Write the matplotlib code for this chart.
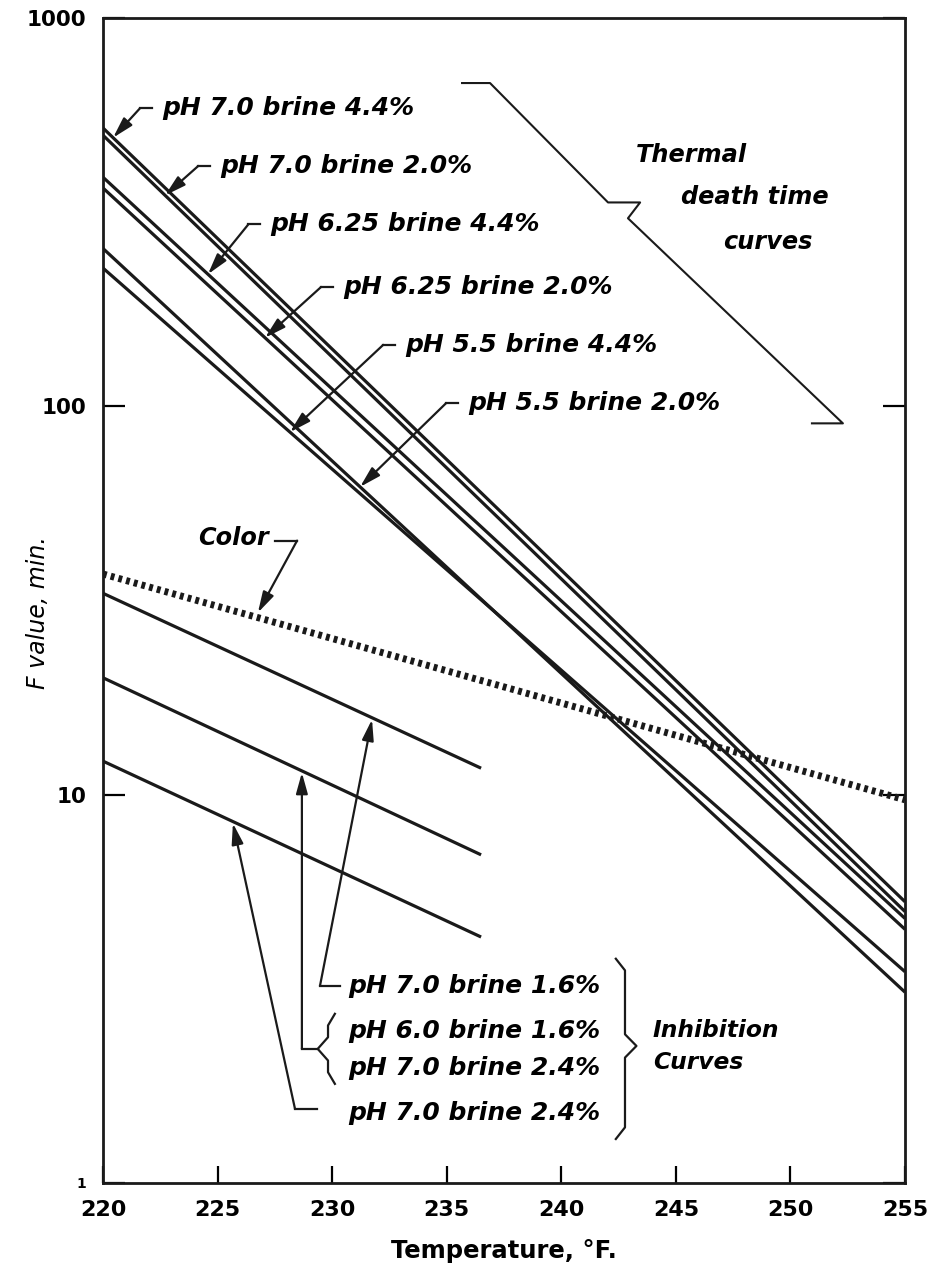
"""Thermal death time vs inhibition curves for brined product (F value against temperature)."""
import numpy as np
import matplotlib
matplotlib.use("Agg")
import matplotlib.pyplot as plt
from matplotlib.ticker import FixedLocator, FixedFormatter, NullLocator

# --- data: straight lines on semi-log paper, F value (min) at the two end temperatures
tdt_labels = ["pH 7.0 brine 4.4%", "pH 7.0 brine 2.0%", "pH 6.25 brine 4.4%",
              "pH 6.25 brine 2.0%", "pH 5.5 brine 4.4%", "pH 5.5 brine 2.0%"]
tdt_temp = [220, 255]
tdt_f = [[521, 5.3], [499, 5.0], [389, 4.8], [365, 4.5], [227, 3.5], [255, 3.1]]

color_temp = [220, 255]
color_f = [37, 9.7]

inhib_temp = [220, 236.5]
inhib_f = [[33, 11.7], [20, 7.0], [12.2, 4.3]]

x_ticks = [220, 225, 230, 235, 240, 245, 250, 255]
y_ticks = [1, 10, 100, 1000]
y_tick_labels = ["1", "10", "100", "1000"]

tdt_text_pos = [(222.57, 586), (225.11, 416), (227.29, 294),
                (230.47, 203), (233.18, 144), (235.93, 102)]
tdt_tip_temp = [220.44, 222.71, 224.58, 227.07, 228.16, 231.22]

TXT = dict(fontsize=18, fontweight="bold", fontstyle="italic", family="DejaVu Sans")
TXT_S = dict(TXT, fontsize=17.3)
LW = 2.3


def f_on_line(t, temps, fs):
    return 10 ** np.interp(t, temps, np.log10(fs))


def arrow(ax, tip, start):
    ax.annotate("", xy=tip, xytext=start,
                arrowprops=dict(arrowstyle="-|>,head_length=0.9,head_width=0.25",
                                lw=1.6, color="#1a1a1a", shrinkA=0, shrinkB=0,
                                mutation_scale=14))


def brace(ax, x, ytop, ybot, ymid, tip, hook, e=0.03):
    # x in degF, y in F; drawn in log space so the bends look even
    lt, lb, lm = np.log10([ytop, ybot, ymid])
    xs = [x + hook, x, x, x - tip, x, x, x + hook]
    ls = [lt, lt - e, lm + e, lm, lm - e, lb + e, lb]
    ax.plot(xs, 10 ** np.array(ls), color="#1a1a1a", lw=1.6, solid_joinstyle="round")


fig = plt.figure(figsize=(9.42, 12.71), dpi=100)
ax = fig.add_axes([103 / 942, 1 - 1183 / 1271, 802 / 942, 1165 / 1271])
ax.set_yscale("log")
ax.set_xlim(220, 255)
ax.set_ylim(1, 1000)

for fs in tdt_f:
    ax.plot(tdt_temp, fs, color="#1a1a1a", lw=LW, solid_capstyle="butt")
for fs in inhib_f:
    ax.plot(inhib_temp, fs, color="#1a1a1a", lw=LW, solid_capstyle="butt")
ax.plot(color_temp, color_f, color="#1a1a1a", lw=5, linestyle=(0, (0.55, 0.6)),
        dash_capstyle="butt")

# thermal death time labels with hooked leaders
for label, (tx, fy), tip_t, fs in zip(tdt_labels, tdt_text_pos, tdt_tip_temp, tdt_f):
    ax.text(tx, fy, label, ha="left", va="center", **TXT)
    hx0, hx1 = tx - 0.45, tx - 0.95
    ax.plot([hx0, hx1], [fy, fy], color="#1a1a1a", lw=1.6)
    arrow(ax, (tip_t, f_on_line(tip_t, tdt_temp, fs)), (hx1, fy))

# bracket for the thermal death time group
br_t = [235.67, 236.89, 242.04, 243.44, 242.91, 252.29, 250.94]
br_f = [680, 680, 335, 335, 305, 90.4, 90.4]
ax.plot(br_t, br_f, color="#1a1a1a", lw=1.5)
ax.text(245.70, 443, "Thermal", ha="center", va="center", **TXT_S)
ax.text(248.45, 346, "death time", ha="center", va="center", **TXT_S)
ax.text(249.02, 265, "curves", ha="center", va="center", **TXT_S)

# color curve label
ax.text(224.15, 45.9, "Color", ha="left", va="center", **TXT_S)
ax.plot([227.51, 228.47], [45.1, 45.1], color="#1a1a1a", lw=1.6)
arrow(ax, (226.76, f_on_line(226.76, color_temp, color_f) * 1.03), (228.47, 45.1))

# inhibition curve labels
ax.text(230.69, 3.22, "pH 7.0 brine 1.6%", ha="left", va="center", **TXT)
ax.plot([230.34, 229.47], [3.22, 3.22], color="#1a1a1a", lw=1.6)
arrow(ax, (231.74, f_on_line(231.74, inhib_temp, inhib_f[0]) * 0.99), (229.47, 3.22))

ax.text(230.69, 2.465, "pH 6.0 brine 1.6%", ha="left", va="center", **TXT)
ax.text(230.69, 1.979, "pH 7.0 brine 2.4%", ha="left", va="center", **TXT)
brace(ax, 229.82, 2.727, 1.80, 2.215, tip=0.45, hook=0.3)
ax.plot([229.37, 228.68], [2.215, 2.215], color="#1a1a1a", lw=1.6)
arrow(ax, (228.68, f_on_line(228.68, inhib_temp, inhib_f[1]) * 0.99), (228.68, 2.215))

ax.text(230.69, 1.515, "pH 7.0 brine 2.4%", ha="left", va="center", **TXT)
ax.plot([229.34, 228.38], [1.551, 1.551], color="#1a1a1a", lw=1.6)
arrow(ax, (225.67, f_on_line(225.67, inhib_temp, inhib_f[2]) * 0.99), (228.38, 1.551))

brace(ax, 242.78, 3.78, 1.298, 2.254, tip=-0.5, hook=-0.4)
ax.text(244.0, 2.465, "Inhibition", ha="left", va="center", **dict(TXT, fontsize=16.8))
ax.text(244.0, 2.04, "Curves", ha="left", va="center", **dict(TXT, fontsize=16.8))

# axes cosmetics
for sp in ax.spines.values():
    sp.set_linewidth(2.0)
    sp.set_color("#1a1a1a")
ax.xaxis.set_major_locator(FixedLocator(x_ticks))
ax.yaxis.set_major_locator(FixedLocator(y_ticks))
ax.yaxis.set_major_formatter(FixedFormatter(y_tick_labels))
ax.yaxis.set_minor_locator(NullLocator())
ax.tick_params(axis="x", direction="in", length=12, width=1.6, labelsize=16, pad=12)
ax.tick_params(axis="y", direction="in", length=16, width=1.6, labelsize=15.5, pad=12,
               right=True)
for lab in ax.get_yticklabels():
    lab.set_fontweight("bold")
ax.get_yticklabels()[0].set_fontsize(10)
for lab in ax.get_xticklabels():
    lab.set_fontweight("bold")

ax.set_xlabel("Temperature, °F.", fontsize=17.5, fontweight="bold", labelpad=14)
ax.set_ylabel("F value, min.", fontsize=17, fontstyle="italic", va="center")
ax.yaxis.set_label_coords(-0.081, 0.49)

fig.savefig("out.png", dpi=100)
